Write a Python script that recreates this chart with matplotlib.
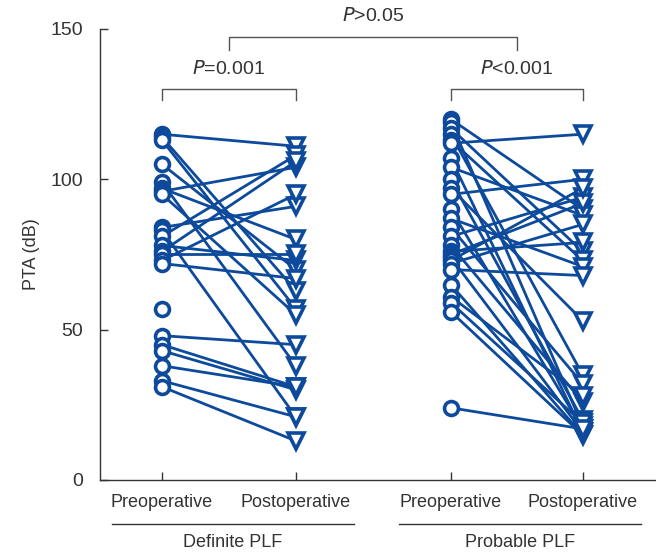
import numpy as np
import matplotlib
matplotlib.use("Agg")
import matplotlib.pyplot as plt
from matplotlib.transforms import blended_transform_factory

plt.rcParams['font.family'] = ['Liberation Sans Narrow', 'Liberation Sans', 'DejaVu Sans']
plt.rcParams['mathtext.fontset'] = 'custom'
plt.rcParams['mathtext.it'] = 'Liberation Sans Narrow:italic'
plt.rcParams['mathtext.rm'] = 'Liberation Sans Narrow'

# data
definite_pre = [115, 114, 113, 105, 99, 97, 96, 95, 84, 83, 81, 78, 76, 75, 73, 72,
                57, 48, 45, 43, 38, 33, 31]
definite_post = [111, 63, 57, 70, 38, 80, 104, 55, 91, 21, 108, 73, 106, 75, 95, 67,
                 np.nan, 45, 31, 30, 31, 21, 13]

probable_pre = [120, 119, 117, 115, 113, 112, 107, 104, 100, 97, 95, 90, 87, 84, 81,
                78, 76, 75, 74, 73, 72, 70, 65, 61, 59, 56, 24]
probable_post = [90, 18, 76, 35, 73, 115, 16, 88, 20, 53, 100, 17, 71, 32, 94,
                 26, 79, 92, 16, 97, 85, 68, 15, 28, 19, 15, 17]

positions = [1, 2, 3.157, 4.142]
tick_labels = ["Preoperative", "Postoperative", "Preoperative", "Postoperative"]
group_labels = ["Definite PLF", "Probable PLF"]
p_labels = [r"$\it{P}$=0.001", r"$\it{P}$<0.001", r"$\it{P}$>0.05"]

blue = "#0d4a9c"
grey = "#333333"

fig = plt.figure(figsize=(6.56, 5.54), dpi=100)
ax = fig.add_axes([0.1524, 0.1336, 0.8456, 0.8141])

for pre, post, xa, xb in [(definite_pre, definite_post, positions[0], positions[1]),
                          (probable_pre, probable_post, positions[2], positions[3])]:
    for a, b in zip(pre, post):
        if not np.isnan(b):
            ax.plot([xa, xb], [a, b], color=blue, lw=2.0, zorder=2)
    ax.plot([xa] * len(pre), pre, 'o', ms=10, mfc='white', mec=blue, mew=2.6,
            ls='none', zorder=3)
    ax.plot([xb] * len(post), post, 'v', ms=12, mfc='white', mec=blue, mew=2.6,
            ls='none', zorder=3)

ax.set_xlim(0.537, 4.68)
ax.set_ylim(0, 150)
ax.set_yticks([0, 50, 100, 150])
ax.set_xticks(positions)
ax.set_xticklabels(tick_labels)
ax.tick_params(direction='in', length=6, width=1, colors=grey, labelsize=13,
               labelcolor=grey)
ax.tick_params(axis='x', pad=10)
ax.tick_params(axis='y', pad=12, labelsize=14)
for s in ['top', 'right']:
    ax.spines[s].set_visible(False)
for s in ['left', 'bottom']:
    ax.spines[s].set_color(grey)
    ax.spines[s].set_linewidth(1)
ax.set_ylabel("PTA (dB)", fontsize=13, color=grey, labelpad=8)

# group underlines and labels
tr = blended_transform_factory(ax.transData, ax.transAxes)
for (x0, x1), lab in zip([(0.627, 2.433), (2.769, 4.575)], group_labels):
    ax.plot([x0, x1], [-0.098, -0.098], color=grey, lw=1, transform=tr, clip_on=False)
    ax.text((x0 + x1) / 2, -0.138, lab, transform=tr, ha='center', va='center',
            fontsize=13, color=grey)

# significance brackets
def bracket(x0, x1, ytop, ybot, label, ytext):
    ax.plot([x0, x0, x1, x1], [ybot, ytop, ytop, ybot], color='#555555', lw=1,
            clip_on=False)
    ax.text((x0 + x1) / 2, ytext, label, ha='center', va='center', fontsize=14,
            color=grey, clip_on=False)

bracket(positions[0], positions[1], 130, 126.3, p_labels[0], 136.6)
bracket(positions[2], positions[3], 130, 126.3, p_labels[1], 136.6)
bracket(1.5, 3.65, 147.3, 143, p_labels[2], 154.2)

fig.savefig("out.png", dpi=100)
